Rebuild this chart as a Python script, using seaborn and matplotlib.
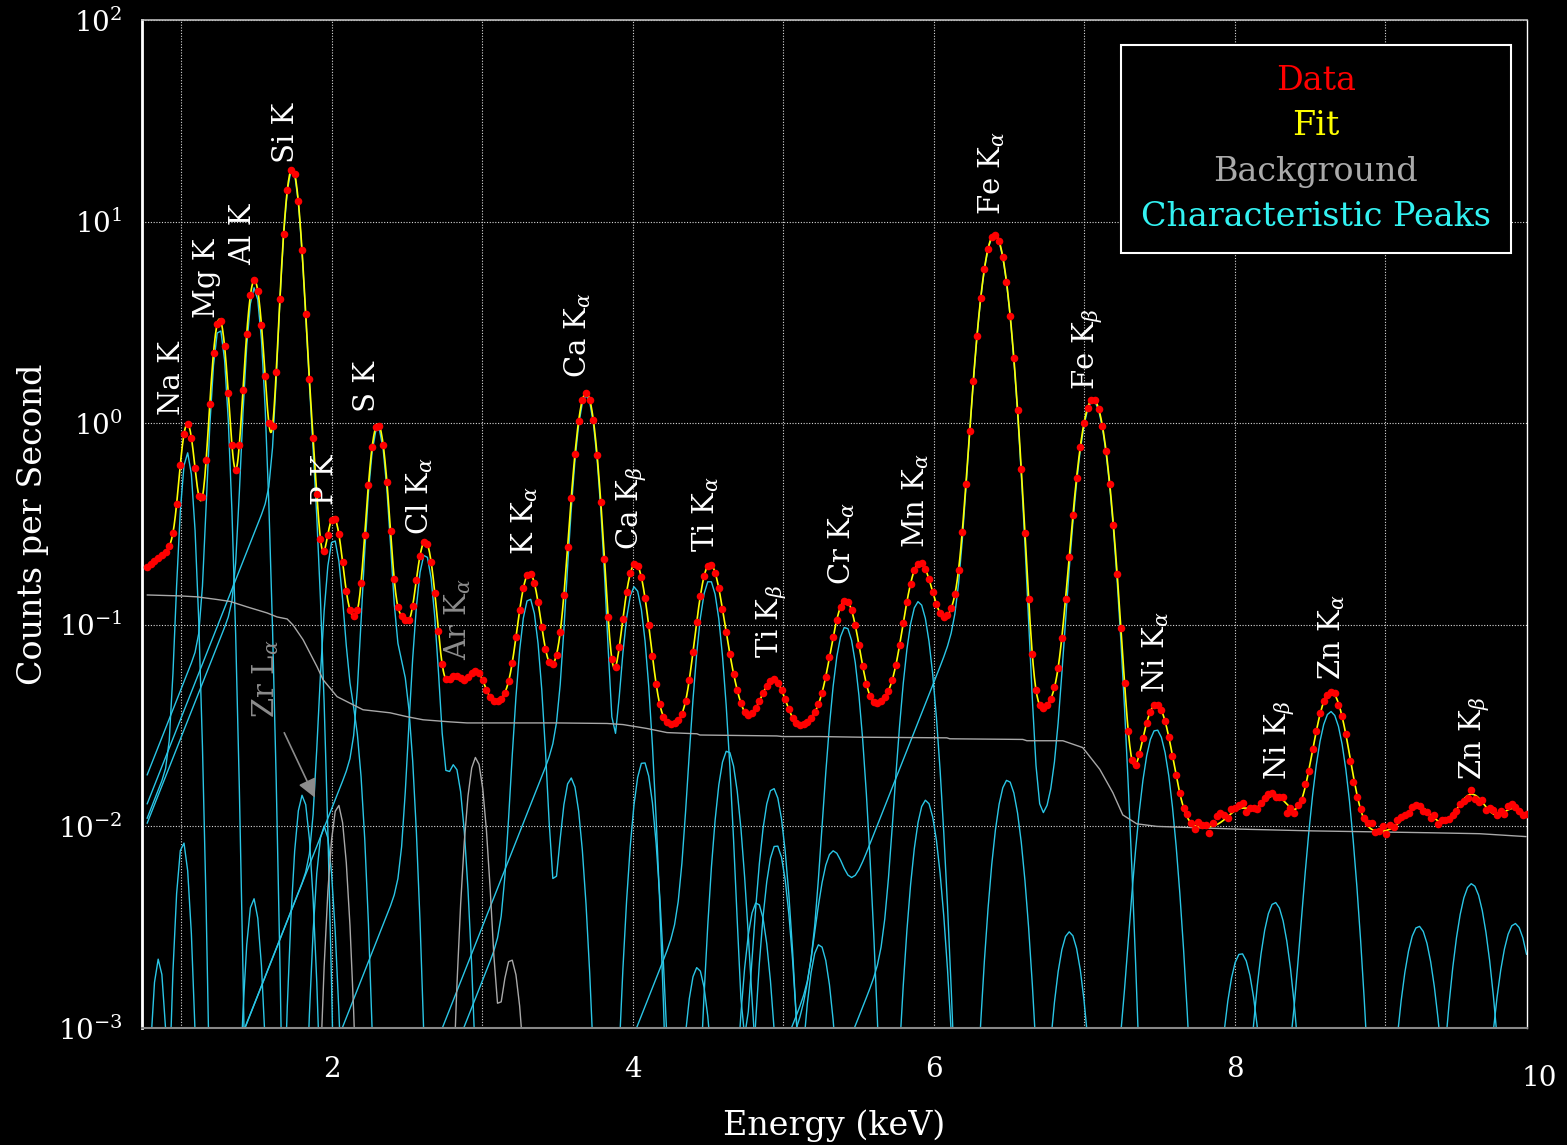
import math
import numpy as np
import pandas as pd
import matplotlib
matplotlib.use("Agg")
import matplotlib.pyplot as plt
from matplotlib.lines import Line2D
import seaborn as sns

# ---------------- data ----------------
# measured channel grid (keV)
channel_start, channel_stop, channel_step = 0.774, 9.94, 0.0245

# background (gray) curve: energy (keV) and counts per second
bg_energy = [0.774, 0.993, 1.106, 1.239, 1.325, 1.438, 1.571, 1.637, 1.704, 1.744,
             1.810, 1.903, 1.943, 2.036, 2.208, 2.388, 2.501, 2.607, 2.786, 2.899,
             3.317, 3.497, 3.829, 3.935, 4.094, 4.227, 4.426, 4.446, 4.957, 4.997,
             5.243, 5.509, 6.086, 6.106, 6.591, 6.618, 6.857, 6.989, 7.102, 7.189,
             7.255, 7.348, 7.481, 8.012, 8.517, 9.293, 9.625, 9.934]
bg_cps = [0.1406, 0.1391, 0.1376, 0.1335, 0.1306, 0.1227, 0.1145, 0.1094, 0.1069, 0.0996,
          0.0843, 0.0619, 0.0534, 0.0440, 0.0379, 0.0366, 0.0350, 0.0338, 0.0330, 0.0326,
          0.0326, 0.0326, 0.0324, 0.0320, 0.0306, 0.0292, 0.0288, 0.0284, 0.0281, 0.0279,
          0.0279, 0.0277, 0.0275, 0.0272, 0.0270, 0.0266, 0.0266, 0.0246, 0.0192, 0.0147,
          0.0114, 0.0103, 0.0100, 0.0097, 0.0095, 0.0093, 0.0092, 0.0089]

# characteristic lines: curve (element), energy (keV), height (cps), tail fraction
line_curve = ["Na", "Mg", "Al", "Si", "Si", "P", "P", "S", "S", "Cl", "Cl",
              "K", "K", "Ca", "Ca", "Ca", "Sc", "Sc", "Ti", "Ti", "V", "Ba",
              "Cr", "Cr", "Mn", "Mn", "Fe", "Fe", "Fe", "Fe", "Co",
              "Ni", "Ni", "Ni", "Cu", "Zn", "Zn", "Zn", "Sr", "Br", "Ga", "Ge", "Ce"]
line_energy = [1.041, 1.254, 1.487, 1.738, 1.836, 2.013, 2.139, 2.307, 2.464, 2.622, 2.815,
               3.313, 3.589, 3.691, 4.013, 1.950, 4.070, 4.430, 4.511, 4.932, 4.952, 4.825,
               5.415, 5.947, 5.899, 6.490, 6.404, 7.058, 4.630, 5.320, 6.900,
               7.478, 8.265, 0.850, 8.040, 8.638, 9.572, 1.012, 1.806, 1.480, 9.220, 9.860, 5.240]
line_height = [0.70, 2.9, 4.6, 17.8, 0.85, 0.26, 0.034, 0.93, 0.060, 0.22, 0.020,
               0.133, 0.0174, 1.35, 0.152, 0.010, 0.021, 0.0020, 0.163, 0.0152, 0.0081, 0.0042,
               0.096, 0.0135, 0.128, 0.017, 8.5, 1.28, 0.0237, 0.0048, 0.0030,
               0.0297, 0.0042, 0.0022, 0.00235, 0.0365, 0.0052, 0.0084, 0.0143, 0.0044, 0.0032, 0.0033, 0.0026]
line_tail = [0.05, 0.05, 0.05, 0.048, 0.0, 0.05, 0.0, 0.05, 0.0, 0.05, 0.0,
             0.05, 0.0, 0.046, 0.046, 0.0, 0.0, 0.0, 0.05, 0.05, 0.0, 0.0,
             0.05, 0.0, 0.05, 0.0, 0.035, 0.035, 0.0, 0.0, 0.0,
             0.05, 0.0, 0.0, 0.0, 0.05, 0.0, 0.0, 0.0, 0.0, 0.0, 0.0, 0.0]

# excluded / gray lines (Zr L, Ar K)
gray_curve = ["Zr", "Ar", "Ar"]
gray_energy = [2.042, 2.957, 3.190]
gray_height = [0.0128, 0.022, 0.0022]

high_scatter_start = 7.65
high_scatter = [1.00, 1.04, 1.00, 0.96, 1.05, 1.02, 1.03, 0.93, 1.04,
                1.10, 1.12, 1.06, 0.98, 1.05, 1.03, 1.04,
                1.06, 0.96, 1.01, 1.00, 0.98, 1.02, 1.04, 1.05,
                1.03, 0.98, 1.00, 1.04, 0.90, 1.00, 0.96,
                1.02, 1.00, 1.03, 0.98, 1.01, 1.00, 1.02, 1.01, 0.99, 1.00, 1.02, 0.98, 1.01, 1.00,
                0.93, 0.92, 0.97, 1.00, 1.02, 1.04, 1.07, 0.99, 1.00, 1.06, 0.96, 1.05,
                1.00, 1.05, 1.04, 1.02, 0.99, 1.02, 1.03, 1.01, 0.97,
                0.99, 0.96, 1.04, 0.97, 1.03, 1.02, 1.01, 1.00, 0.99, 1.00, 0.98,
                0.97, 1.05, 0.96, 0.95, 1.02, 0.96, 1.04, 1.05, 1.00, 1.03, 0.98, 1.04,
                1.05, 1.02, 0.99, 0.97, 1.03]

# peak labels
label_text = ["Na K", "Mg K", "Al K", "Si K", "P K", "S K", r"Cl K$_\alpha$", r"K K$_\alpha$",
              r"Ca K$_\alpha$", r"Ca K$_\beta$", r"Ti K$_\alpha$", r"Ti K$_\beta$", r"Cr K$_\alpha$",
              r"Mn K$_\alpha$", r"Fe K$_\alpha$", r"Fe K$_\beta$", r"Ni K$_\alpha$", r"Ni K$_\beta$",
              r"Zn K$_\alpha$", r"Zn K$_\beta$"]
label_E = [0.940, 1.173, 1.412, 1.697, 1.956, 2.235, 2.587, 3.284, 3.636, 3.995, 4.486,
           4.924, 5.389, 5.880, 6.385, 7.023, 7.474, 8.297, 8.643, 9.592]
label_y = [1.10, 3.32, 6.09, 19.5, 0.393, 1.14, 0.279, 0.222, 1.68, 0.235, 0.230,
           0.0685, 0.157, 0.240, 10.8, 1.46, 0.0459, 0.0170, 0.0532, 0.0170]
gray_label_text = [r"Ar K$_\alpha$", r"Zr L$_\alpha$"]
gray_label_E = [2.839, 1.564]
gray_label_y = [0.0669, 0.0345]

legend_labels = ["Data", "Fit", "Background", "Characteristic Peaks"]

# ---------------- model ----------------
verfc = np.vectorize(math.erfc)


def sigma(E):
    return np.sqrt(0.0007 + 0.00078 * E)


def line_shape(E, E0, A, T, beta=0.23):
    s = sigma(E0)
    g = A * np.exp(-0.5 * ((E - E0) / s) ** 2)
    if T > 0:
        z = (E - E0) / (np.sqrt(2) * s) + s / (np.sqrt(2) * beta)
        t = T * A * np.exp(np.clip((E - E0) / beta, -700, 60)) * 0.5 * verfc(z)
        g = g + t
    return g


def background(E):
    return 10 ** np.interp(E, bg_energy, np.log10(bg_cps))


def curves(E, names, energies, heights, tails=None):
    out = {}
    for i, name in enumerate(names):
        T = tails[i] if tails is not None else 0.0
        out.setdefault(name, np.zeros_like(E))
        out[name] = out[name] + line_shape(E, energies[i], heights[i], T)
    return out


E_ch = np.arange(channel_start, channel_stop, channel_step)
E_fine = np.linspace(channel_start, 9.94, 2200)


def total(E):
    tot = background(E).copy()
    for v in curves(E, line_curve, line_energy, line_height, line_tail).values():
        tot += v
    for v in curves(E, gray_curve, gray_energy, gray_height).values():
        tot += v
    return tot


fit_fine = total(E_fine)
data_cps = total(E_ch)
hi_idx = np.where(E_ch >= high_scatter_start)[0]
n_hi = min(len(hi_idx), len(high_scatter))
data_cps[hi_idx[:n_hi]] *= np.array(high_scatter[:n_hi])

peak_rows = []
for name, v in curves(E_ch, line_curve, line_energy, line_height, line_tail).items():
    peak_rows.append(pd.DataFrame({"E": E_ch, "cps": np.maximum(v, 1e-5), "curve": name}))
df_peaks = pd.concat(peak_rows, ignore_index=True)
gray_rows = []
for name, v in curves(E_ch, gray_curve, gray_energy, gray_height).items():
    gray_rows.append(pd.DataFrame({"E": E_ch, "cps": np.maximum(v, 1e-5), "curve": name}))
df_gray = pd.concat(gray_rows, ignore_index=True)
df_fit = pd.DataFrame({"E": E_fine, "cps": fit_fine})
df_data = pd.DataFrame({"E": E_ch, "cps": data_cps})
df_bg = pd.DataFrame({"E": bg_energy, "cps": bg_cps})

# ---------------- style ----------------
sns.set_style("dark")
plt.rcParams["font.family"] = ["DejaVu Serif"]
plt.rcParams["mathtext.fontset"] = "dejavuserif"
plt.rcParams["figure.facecolor"] = "black"

CYAN = "#2ac6e6"
GRAY = "#a8a8a8"

fig = plt.figure(figsize=(15.67, 11.45), dpi=100)
fig.patch.set_facecolor("black")
W, H = 1567, 1145
ax = fig.add_axes([142 / W, 1 - 1028 / H, (1527 - 142) / W, (1028 - 20) / H])
ax.set_facecolor("black")

sns.lineplot(data=df_peaks, x="E", y="cps", units="curve", estimator=None, sort=False,
             color=CYAN, lw=1.0, ax=ax, legend=False, zorder=2)
sns.lineplot(data=df_gray, x="E", y="cps", units="curve", estimator=None, sort=False,
             color=GRAY, lw=1.0, ax=ax, legend=False, zorder=2)
sns.lineplot(data=df_bg, x="E", y="cps", estimator=None, sort=False,
             color=GRAY, lw=1.0, ax=ax, legend=False, zorder=3)
sns.lineplot(data=df_fit, x="E", y="cps", estimator=None, sort=False,
             color="#ffff00", lw=1.2, ax=ax, legend=False, zorder=4)
sns.scatterplot(data=df_data, x="E", y="cps", color="#ff0000", s=30, linewidth=0,
                ax=ax, legend=False, zorder=5)

ax.set_yscale("log")
ax.set_ylim(1e-3, 1e2)
ax.set_xlim(0.74, 9.94)
ax.set_xticks(range(1, 10))
ax.set_xticklabels(["", "2", "", "4", "", "6", "", "8", ""])
ax.minorticks_off()
ax.grid(True, which="major", color="#d8d8d8", ls=(0, (1, 1.5)), lw=0.8)
ax.tick_params(axis="both", colors="#555555", labelcolor="white", labelsize=20, length=6)
ax.tick_params(axis="x", pad=14)
ax.tick_params(axis="y", pad=8)
ax.text(10.02, -0.037, "10", transform=ax.get_xaxis_transform(), ha="center", va="top",
        color="white", fontsize=20, clip_on=False)

for side, col, lw in [("left", "white", 2.0), ("right", "white", 1.0),
                      ("top", "#bbbbbb", 1.2), ("bottom", "#888888", 1.5)]:
    ax.spines[side].set_visible(True)
    ax.spines[side].set_color(col)
    ax.spines[side].set_linewidth(lw)

ax.set_xlabel("Energy (keV)", color="white", fontsize=24, labelpad=19)
ax.set_ylabel("Counts per Second", color="white", fontsize=24, labelpad=6)

for t, e, y in zip(label_text, label_E, label_y):
    ax.text(e, y, t, rotation=90, ha="center", va="bottom", color="white", fontsize=21,
            zorder=6)
for t, e, y in zip(gray_label_text, gray_label_E, gray_label_y):
    ax.text(e, y, t, rotation=90, ha="center", va="bottom", color="#8c8c8c", fontsize=21,
            zorder=6)
ax.annotate("", xy=(1.896, 0.0135), xytext=(1.677, 0.030),
            arrowprops=dict(arrowstyle="-|>", color="#8c8c8c", lw=1.2, mutation_scale=28),
            zorder=6)

colors = ["#ff0000", "#ffff00", "#aaaaaa", "#33f2f2"]
handles = [Line2D([], [], color=c, lw=0) for c in colors]
leg = ax.legend(handles, legend_labels, loc="upper right",
                bbox_to_anchor=((1511 - 142) / 1385, (1028 - 45) / 1008),
                borderaxespad=0, handlelength=0, handletextpad=0, labelcolor=colors,
                frameon=True, fancybox=False, edgecolor="white", facecolor="black",
                framealpha=1, fontsize=24, borderpad=0.6, labelspacing=0.40)
leg.get_frame().set_linewidth(1.5)
leg.set_zorder(10)
for col in leg._legend_handle_box.get_children():
    col.align = "center"

fig.savefig("out.png", dpi=100, facecolor="black")
